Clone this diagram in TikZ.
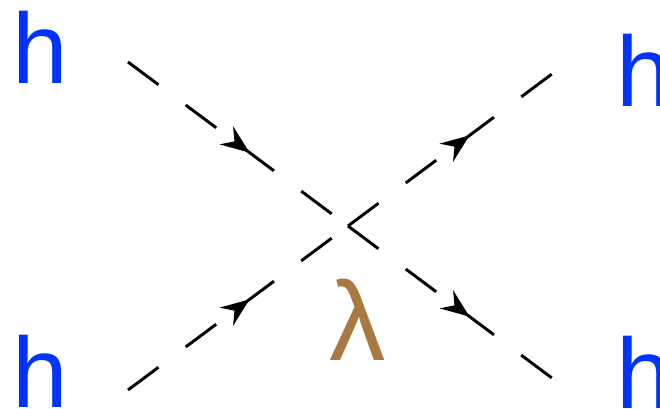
\documentclass[tikz,border=0pt]{standalone}
\usepackage{fontspec}
\setmainfont{Liberation Sans}
\usetikzlibrary{arrows.meta,decorations.markings}
\definecolor{hblue}{RGB}{0,51,255}
\definecolor{lambrown}{RGB}{170,121,66}
\tikzset{
  scalar/.style={line width=2.1pt, dash pattern=on 0.95cm off 0.85cm,
    postaction={decorate},
    decoration={markings, mark=at position 0.5 with {\arrow[xshift=0.36cm]{Stealth[length=0.72cm,width=0.56cm,inset=0.25cm]}}}},
  higgs/.style={text=hblue, inner sep=0pt, font=\fontsize{71}{71}\selectfont},
  coupling/.style={text=lambrown, inner sep=0pt, font=\fontsize{80}{80}\selectfont}
}
\begin{document}
\begin{tikzpicture}[x=0.025cm, y=-0.025cm]
  \useasboundingbox (0,0) rectangle (660,409);
  % vertex and external ends
  \coordinate (v) at (348,226);
  \coordinate (inA) at (128,62);
  \coordinate (inB) at (128,390);
  \coordinate (outA) at (568,62);
  \coordinate (outB) at (568,390);
  % labels
  \node[higgs] (h1) at (40,47) {h};
  \node[higgs] (h2) at (40,371) {h};
  \node[higgs] (h3) at (644,70) {h};
  \node[higgs] (h4) at (644,372) {h};
  \node[coupling] (lam) at (358,320) {λ};
  % propagators
  \draw[scalar] (inA) -- (v);
  \draw[scalar] (inB) -- (v);
  \draw[scalar] (v) -- (outA);
  \draw[scalar] (v) -- (outB);
\end{tikzpicture}
\end{document}
